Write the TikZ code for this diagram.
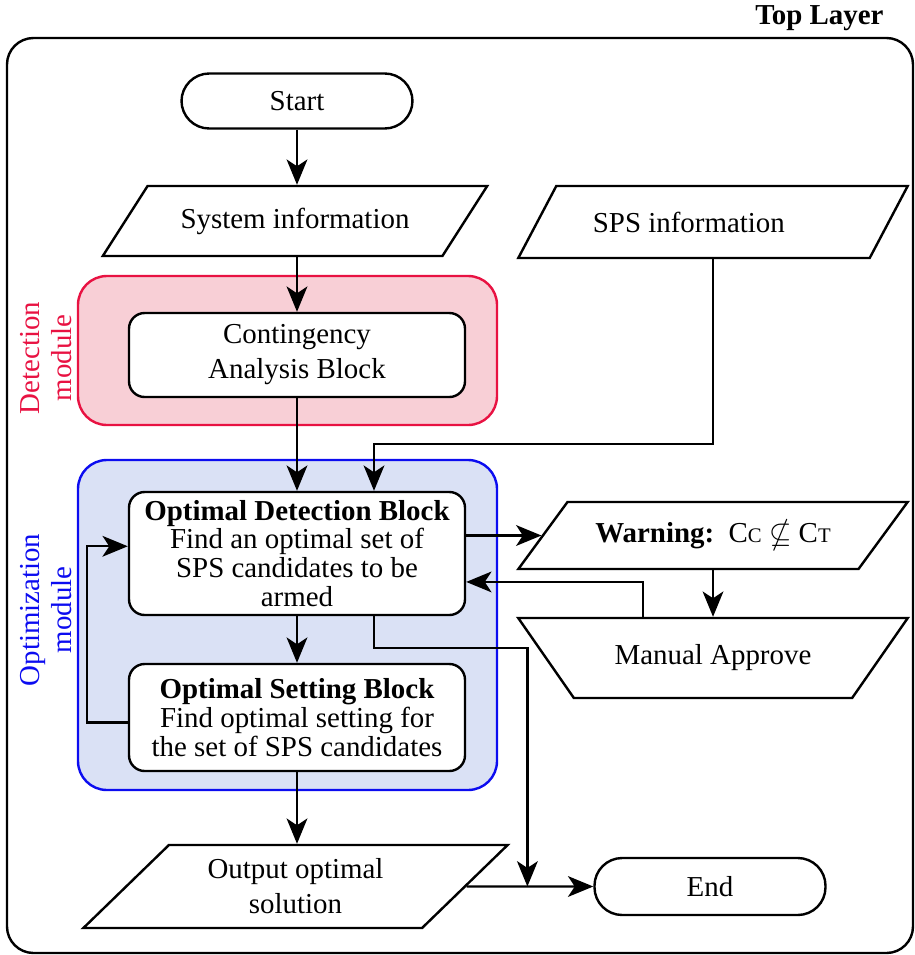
\documentclass[tikz,border=0pt]{standalone}
\usepackage{amssymb}
\usepackage{fontspec}
\setmainfont{Liberation Serif}
\usepackage{tikz}
\usetikzlibrary{positioning, arrows.meta, shapes.geometric, calc}
\definecolor{detred}{RGB}{232,18,66}
\definecolor{detfill}{RGB}{248,207,214}
\definecolor{optblue}{RGB}{12,12,240}
\definecolor{optfill}{RGB}{218,225,245}
\newlength{\pxu}
\setlength{\pxu}{0.415pt}
\newcommand{\capsm}[1]{{\fontsize{8.6}{8.6}\selectfont #1}}

\begin{document}
\begin{tikzpicture}[
  x=1\pxu, y=-1\pxu,
  base/.style={draw, line width=1pt, fill=white, font=\fontsize{12}{12}\selectfont,
               align=center, inner sep=2pt},
  term/.style={base, rounded corners=11.5pt, minimum width=231\pxu, minimum height=55\pxu},
  block/.style={base, rounded corners=6.5pt, minimum width=336\pxu},
  io/.style={base, trapezium, trapezium left angle=45, trapezium right angle=135,
             trapezium stretches=true},
  manualop/.style={base, trapezium, trapezium left angle=139, trapezium right angle=139,
                   trapezium stretches=true},
  wide/.style={font=\fontsize{12}{14.5}\selectfont},
  module/.style={line width=1pt, rounded corners=12pt},
  sidelabel/.style={rotate=90, align=center, font=\fontsize{12}{13.5}\selectfont},
  arr/.style={-{Stealth[length=10.5pt, width=8.6pt, inset=2.8pt]}, line width=1pt},
]
  \useasboundingbox (0,0) rectangle (914,955);
  \node[anchor=east, inner sep=0pt, font=\fontsize{12}{12}\selectfont\bfseries] (toplayer) at (884,18) {Top Layer};
  \draw[line width=1pt, rounded corners=11pt] (7,38) rectangle (913,953);

  % module backgrounds
  \draw[module, draw=detred, fill=detfill] (78,276) rectangle (497,425);
  \draw[module, draw=optblue, fill=optfill] (78,460) rectangle (497,790);
  \node[sidelabel, text=detred] (detlabel) at (46,358) {Detection\\module};
  \node[sidelabel, text=optblue] (optlabel) at (46,610) {Optimization\\module};

  \node[term] (start) at (297,101) {Start};
  \node[io, minimum width=385\pxu, minimum height=70\pxu] (sysinfo) at (295,221) {System information};
  \node[io, minimum width=390\pxu, minimum height=72\pxu] (spsinfo) at (713,222) {SPS information\hspace*{20pt}};
  \node[block, wide, minimum height=84\pxu] (cab) at (297,355) {Contingency\\Analysis Block};
  \node[block, minimum height=123\pxu] (odb) at (297,553.5)
    {\textbf{Optimal Detection Block}\\Find an optimal set of\\SPS candidates to be\\armed};
  \node[block, minimum height=107\pxu] (osb) at (297,717.5)
    {\textbf{Optimal Setting Block}\\Find optimal setting for\\the set of SPS candidates};
  \node[io, minimum width=390\pxu, minimum height=67\pxu] (warn) at (713,535.5)
    {\textbf{Warning:}\ \ C\capsm{C} $\nsubseteq$ C\capsm{T}};
  \node[manualop, minimum width=390\pxu, minimum height=80\pxu] (approve) at (713,658) {Manual Approve};
  \node[io, wide, trapezium left angle=46, trapezium right angle=134, minimum width=425\pxu,
        minimum height=83\pxu] (output) at (295.5,886.5) {Output optimal\\solution};
  \node[term, minimum height=57\pxu] (end) at (710,886.5) {End};

  \coordinate (odbin) at ($(odb.north)+(77,0)$);
  \coordinate (merge) at ($(output.east)!0.48!(end.west)$);

  % main flow
  \draw[arr] (start) -- (start |- sysinfo.north);
  \draw[arr] (sysinfo.south -| start) -- (cab);
  \draw[arr] (cab) -- (odb);
  \draw[arr] (odb) -- (osb);
  \draw[arr] (osb) -- (osb |- output.north);
  \draw[arr] (output.east) -- (end.west);
  \draw[arr] (spsinfo.south) -- ++(0,185) -| (odbin);

  % feedback loops
  \draw[arr] ([yshift=-2pt]osb.west) -- ++(-41,0) |- ([yshift=3pt]odb.west);
  \draw[arr] (odb.east |- warn.west) -- (warn.west);
  \draw[arr] (warn.south) -- (warn.south |- approve.north);
  \draw[arr] ([xshift=-29pt]approve.north) |- ([yshift=-11.8pt]odb.east);
  \draw[arr] ([xshift=32pt]odb.south) -- ++(0,32) -| (merge);
\end{tikzpicture}
\end{document}
